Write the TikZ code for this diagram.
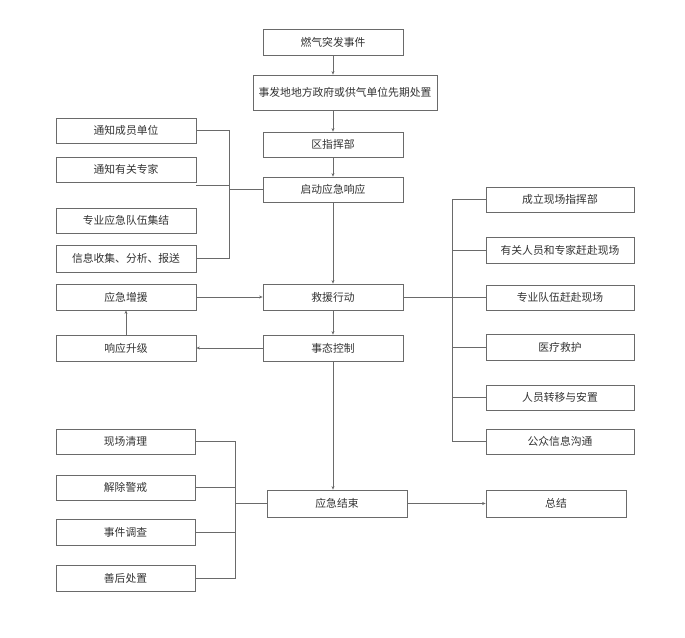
\documentclass[tikz,border=0pt]{standalone}
\usepackage{fontspec}
\setmainfont{Noto Sans CJK SC}
\usetikzlibrary{arrows.meta}
\definecolor{edgegray}{HTML}{6A6A6A}
\definecolor{txtgray}{HTML}{333333}
\tikzset{
  box/.style={draw=edgegray, line width=0.8pt, fill=white, inner sep=0pt,
    minimum width=140pt, minimum height=26pt, text=txtgray,
    font=\fontsize{10.8}{12}\selectfont},
  conn/.style={draw=edgegray, line width=0.8pt},
  arr/.style={conn, -{Stealth[length=3.5pt,width=3pt]}}
}
\begin{document}
\begin{tikzpicture}[x=1pt,y=-1pt]
\useasboundingbox[fill=white] (0,0) rectangle (685,637);
% main column
\node[box] (n1) at (333,42) {燃气突发事件};
\node[box, minimum width=184pt, minimum height=35pt] (n2) at (345,92.5) {事发地地方政府或供气单位先期处置};
\node[box, minimum height=25pt] (n3) at (333,144.5) {区指挥部};
\node[box, minimum height=25pt] (n4) at (333,189.5) {启动应急响应};
\node[box] (n5) at (333,297) {救援行动};
\node[box] (n6) at (333,348) {事态控制};
\node[box, minimum height=27pt] (n7) at (337,503.5) {应急结束};
\node[box, minimum height=27pt] (n8) at (556,503.5) {总结};
% left upper
\node[box, minimum height=25pt] (l1) at (126,130.5) {通知成员单位};
\node[box, minimum height=25pt] (l2) at (126,169.5) {通知有关专家};
\node[box, minimum height=25pt] (l3) at (126,220.5) {专业应急队伍集结};
\node[box, minimum height=27pt] (l4) at (126,258.5) {信息收集、分析、报送};
\node[box] (l5) at (126,297) {应急增援};
\node[box] (l6) at (126,348) {响应升级};
% right
\node[box, minimum width=148pt, minimum height=25pt] (r1) at (560,199.5) {成立现场指挥部};
\node[box, minimum width=148pt] (r2) at (560,250) {有关人员和专家赶赴现场};
\node[box, minimum width=148pt, minimum height=25pt] (r3) at (560,297.5) {专业队伍赶赴现场};
\node[box, minimum width=148pt] (r4) at (560,347) {医疗救护};
\node[box, minimum width=148pt, minimum height=25pt] (r5) at (560,397.5) {人员转移与安置};
\node[box, minimum width=148pt, minimum height=25pt] (r6) at (560,441.5) {公众信息沟通};
% bottom left
\node[box, minimum width=139pt, minimum height=25pt] (b1) at (125.5,441.5) {现场清理};
\node[box, minimum width=139pt, minimum height=25pt] (b2) at (125.5,487.5) {解除警戒};
\node[box, minimum width=139pt] (b3) at (125.5,532) {事件调查};
\node[box, minimum width=139pt] (b4) at (125.5,578) {善后处置};
% bus coordinates
\coordinate (busL) at (229,189.5);
\coordinate (busR) at (452,297);
\coordinate (busB) at (235,503.5);
% main arrows
\draw[arr] (n1.south -| 333,0) -- (n2.north -| 333,0);
\draw[arr] (n2.south -| 333,0) -- (n3.north);
\draw[arr] (n3) -- (n4);
\draw[arr] (n4) -- (n5);
\draw[arr] (n5) -- (n6);
\draw[arr] (n6.south) -- (n6.south |- n7.north);
\draw[arr] (n7) -- (n8);
\draw[arr] (l5) -- (n5);
\draw[arr] (n6) -- (l6);
\draw[arr] (l6) -- (l5);
% left upper bus
\draw[conn] (l1.east) -- (l1.east -| busL) -- (l4.east -| busL) -- (l4.east);
\draw[conn] ([yshift=-3pt]l2.south east) -- ([yshift=-3pt]l2.south east -| busL);
\draw[conn] (busL) -- (n4.west);
% right bus
\draw[conn] (n5.east) -- (busR);
\draw[conn] (r1.west) -- (r1.west -| busR) -- (r6.west -| busR) -- (r6.west);
\foreach \r in {r2,r3,r4,r5} \draw[conn] (\r.west -| busR) -- (\r.west);
% bottom left bus
\draw[conn] (b1.east) -- (b1.east -| busB) -- (b4.east -| busB) -- (b4.east);
\foreach \b in {b2,b3} \draw[conn] (\b.east) -- (\b.east -| busB);
\draw[conn] (busB) -- (n7.west);
\end{tikzpicture}
\end{document}
